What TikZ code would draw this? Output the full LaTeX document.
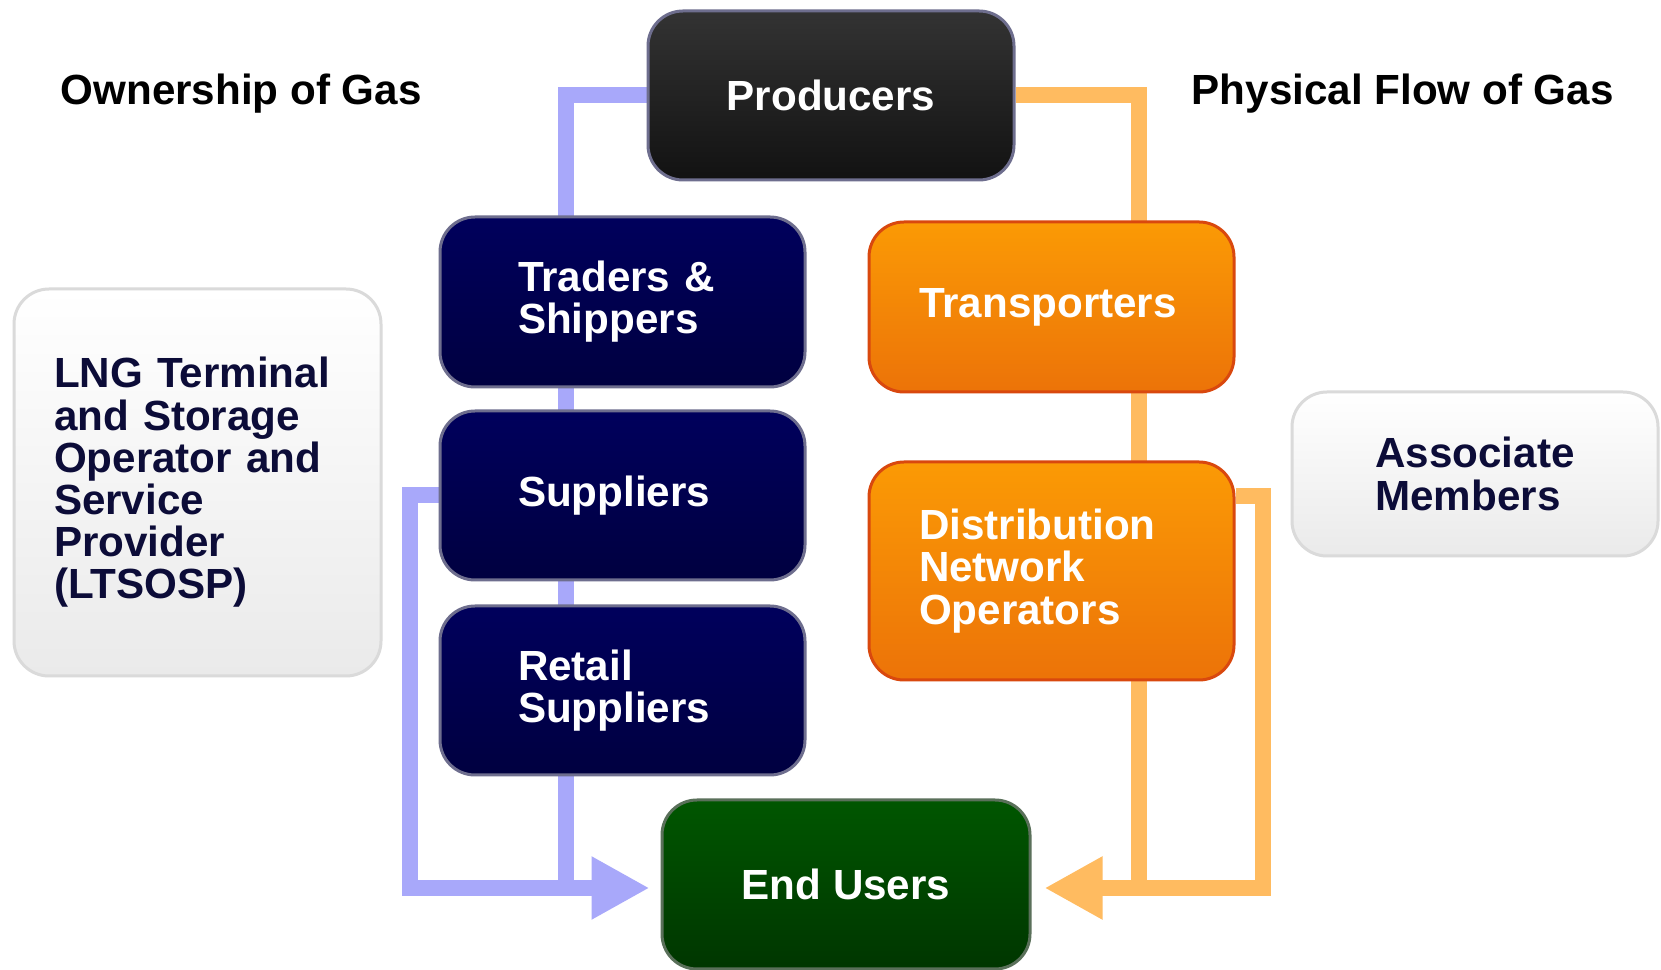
\documentclass[tikz,border=0pt]{standalone}
\usepackage{fontspec}
\setmainfont{Liberation Sans}
\usetikzlibrary{arrows.meta,backgrounds}
\definecolor{ownblue}{HTML}{A8A8FA}
\definecolor{flowora}{HTML}{FFBB60}
\definecolor{navytop}{HTML}{00005C}
\definecolor{navybot}{HTML}{000040}
\definecolor{navyrim}{HTML}{6E6E8E}
\definecolor{oratop}{HTML}{FB9A05}
\definecolor{orabot}{HTML}{EC7308}
\definecolor{orarim}{HTML}{D9480E}
\definecolor{greentop}{HTML}{005600}
\definecolor{greenbot}{HTML}{003600}
\definecolor{greenrim}{HTML}{5A705A}
\definecolor{greytop}{HTML}{FFFFFF}
\definecolor{greybot}{HTML}{EAEAEA}
\definecolor{greyrim}{HTML}{DADADA}
\definecolor{inktext}{HTML}{0C0C38}

\begin{document}
\begin{tikzpicture}[x=0.1mm,y=-0.1mm,
  box/.style={rounded corners=3.5mm,line width=0.3mm,minimum width=36.5mm,minimum height=17mm,inner sep=0pt,align=left,font=\bfseries\fontsize{12}{12}\selectfont},
  prodbox/.style={box,draw=navyrim,top color=black!80,bottom color=black!93,text=white},
  navybox/.style={box,draw=navyrim,top color=navytop,bottom color=navybot,text=white,text width=20.9mm,inner xsep=7.8mm},
  orabox/.style={box,draw=orarim,top color=oratop,bottom color=orabot,text=white,text width=26.5mm,inner xsep=5mm},
  greenbox/.style={box,draw=greenrim,top color=greentop,bottom color=greenbot,text=white},
  greybox/.style={box,draw=greyrim,top color=greytop,bottom color=greybot,text=inktext},
  heading/.style={anchor=west,inner sep=0pt,font=\bfseries\fontsize{12}{12}\selectfont},
  ownline/.style={draw=ownblue,line width=1.6mm},
  flowline/.style={draw=flowora,line width=1.6mm},
  tip/.style={-{Triangle[length=5.8mm,width=5.9mm]}}]
\useasboundingbox (0,0) rectangle (1661,970);

\node[heading] (ownhead) at (60,94) {Ownership of Gas};
\node[heading] (flowhead) at (1191,94) {Physical Flow of Gas};

\node[prodbox,minimum width=36.6mm,minimum height=16.9mm] (prod) at (831,95.5) {Producers};
\node[navybox] (trad) at (622.5,302) {Traders \&\\Shippers};
\node[navybox,minimum height=16.9mm] (supp) at (622.5,495.5) {Suppliers};
\node[navybox,minimum height=16.9mm] (retail) at (622.5,690.5) {Retail\\Suppliers};
\node[orabox] (trans) at (1051.5,307) {Transporters};
\node[orabox,minimum height=21.8mm] (dno) at (1051.5,571) {Distribution\\Network\\Operators};
\node[greenbox,minimum width=36.8mm,minimum height=16.9mm] (endu) at (846,884.5) {End Users};
\node[greybox,minimum width=36.7mm,minimum height=38.7mm,text width=28.7mm,inner xsep=4mm] (ltsosp) at (197.5,482.5) {LNG Terminal\\and Storage\\Operator and\\Service\\Provider\\(LTSOSP)};
\node[greybox,minimum width=36.6mm,minimum height=16.4mm] (assoc) at (1475,474) {Associate\\Members};

\coordinate (ownmid) at (566,888);
\coordinate (ownout) at (410,888);
\coordinate (owntip) at (endu.west |- ownmid);
\coordinate (flowmid) at (1139,888);
\coordinate (flowout) at (1263,888);
\coordinate (flowtip) at (endu.east |- flowmid);
\coordinate (dnoside) at ([yshift=-3.6mm]dno.north east);

\begin{pgfonlayer}{background}
\fill[white] (0,0) rectangle (1661,970);
\draw[ownline,tip,shorten >=1.1mm] (prod.west) -| (ownmid) -- (owntip);
\draw[ownline] (supp.west) -| (ownout) -- (ownmid);
\draw[flowline,tip,shorten >=1.3mm] (prod.east) -| (flowmid) -- (flowtip);
\draw[flowline] (dnoside) -| (flowout) -- (flowmid);
\end{pgfonlayer}
\end{tikzpicture}
\end{document}
